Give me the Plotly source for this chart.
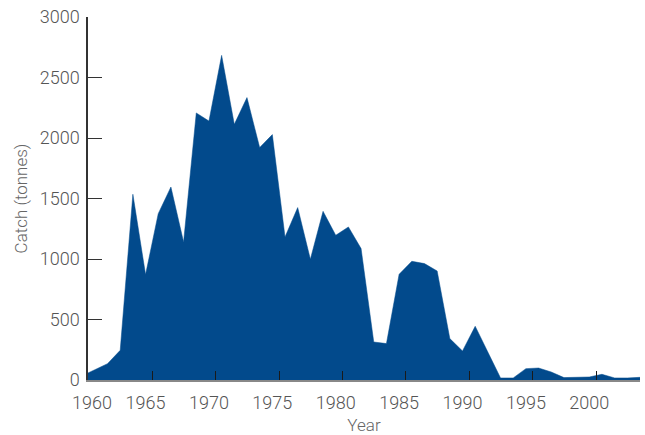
import plotly.graph_objects as go

years = list(range(1960, 2005))
catch = [35, 85, 135, 245, 1535, 871, 1375, 1595, 1140, 2207,
         2140, 2683, 2113, 2334, 1921, 2028, 1182, 1425, 998, 1394,
         1196, 1265, 1086, 314, 301, 874, 981, 962, 901, 342,
         240, 444, 231, 17, 17, 94, 99, 66, 20, 25,
         25, 47, 17, 17, 22]

tick_years = [1960, 1965, 1970, 1975, 1980, 1985, 1990, 1995, 2000]
tick_labels = [str(y) for y in tick_years]
y_ticks = [0, 500, 1000, 1500, 2000, 2500, 3000]

x_range = [1960.46, 2004.0]
label_pos = [max(y, 1960.78) for y in tick_years]
tick_marks = [y + 0.53 for y in tick_years[1:]]

font_family = "Roboto"
grey = "#555555"

fig = go.Figure()
fig.add_trace(go.Scatter(
    x=years, y=catch, mode="lines", fill="tozeroy",
    fillcolor="#024a8c", line=dict(color="#024a8c", width=0.5),
    hoverinfo="x+y", showlegend=False,
))
# invisible trace on the label-only overlay axis
fig.add_trace(go.Scatter(x=[x_range[0]], y=[0], xaxis="x2", mode="markers",
                         marker=dict(opacity=0), showlegend=False, hoverinfo="skip"))

fig.update_layout(
    width=645, height=435,
    margin=dict(l=88, r=5, t=17, b=55),
    paper_bgcolor="white", plot_bgcolor="white",
    font=dict(family=font_family, color=grey, size=18, weight=300),
    xaxis=dict(
        range=x_range, tickmode="array", tickvals=tick_marks, showticklabels=False,
        ticks="inside", ticklen=9, tickwidth=1.3, tickcolor="#1a1a1a",
        showgrid=False, zeroline=False, automargin=False,
        showline=True, linecolor="#888888", linewidth=1.5, layer="above traces",
    ),
    xaxis2=dict(
        range=x_range, overlaying="x", anchor="y", side="bottom",
        tickmode="array", tickvals=label_pos, ticktext=tick_labels,
        ticks="", showgrid=False, zeroline=False, showline=False, automargin=False,
        ticklabelstandoff=10,
        tickfont=dict(family=font_family, size=18, color=grey, weight=300),
        title=dict(text="Year", standoff=10,
                   font=dict(family=font_family, size=17, color="#666666", weight=300)),
    ),
    yaxis=dict(
        range=[0, 3000], tickmode="array", tickvals=y_ticks,
        ticks="inside", ticklen=14, tickwidth=1.2, tickcolor="#333333",
        showgrid=False, zeroline=False, automargin=False,
        showline=True, linecolor="#333333", linewidth=1.5,
        ticklabelstandoff=3, layer="above traces",
        tickfont=dict(family=font_family, size=18, color=grey, weight=300),
        title=dict(text="Catch (tonnes)", standoff=8,
                   font=dict(family=font_family, size=17, color="#666666", weight=300)),
    ),
)

fig.write_html("out.html", config={"displayModeBar": False},
               post_script="document.body.style.margin='0';")
